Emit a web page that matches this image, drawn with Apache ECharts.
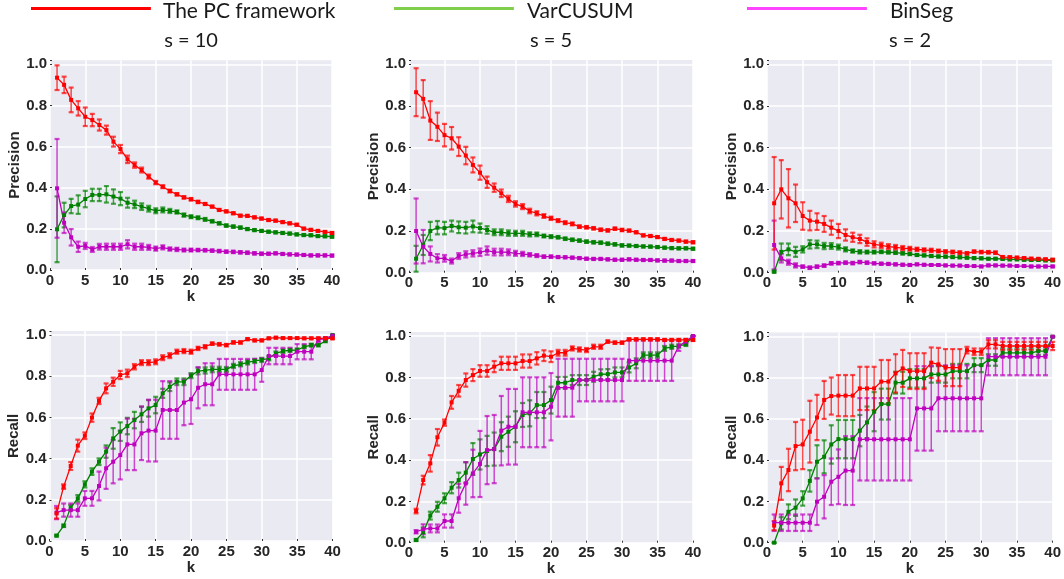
<!DOCTYPE html>
<html>
<head>
<meta charset="utf-8">
<script src="https://cdn.jsdelivr.net/npm/echarts@6/dist/echarts.min.js"></script>
<style>
  html, body { margin: 0; padding: 0; background: #ffffff; }
  #chart { width: 1064px; height: 579px; }
</style>
</head>
<body>
<div id="chart"></div>
<script>
// Number of detected change points k
const kValues = [1,2,3,4,5,6,7,8,9,10,11,12,13,14,15,16,17,18,19,20,
                 21,22,23,24,25,26,27,28,29,30,31,32,33,34,35,36,37,38,39,40];

const methodNames = ['The PC framework', 'VarCUSUM', 'BinSeg'];
const panelTitles = ['s = 10', 's = 5', 's = 2'];
const yTickLabels = ['0.0', '0.2', '0.4', '0.6', '0.8', '1.0'];
const xTickLabels = ['0', '5', '10', '15', '20', '25', '30', '35', '40'];

// ---- Precision, s = 10 ----
const precS10Pc = [0.935,0.90,0.827,0.786,0.745,0.729,0.705,0.68,0.624,0.588,
  0.538,0.51,0.486,0.454,0.425,0.405,0.384,0.368,0.353,0.344,
  0.331,0.321,0.308,0.292,0.285,0.276,0.264,0.263,0.256,0.25,
  0.243,0.24,0.233,0.227,0.22,0.201,0.195,0.19,0.185,0.18];
const precS10PcErr = [0.06,0.04,0.06,0.035,0.045,0.03,0.027,0.022,0.024,0.02,
  0.018,0.013,0.012,0.01,0.008,0.007,0.007,0.006,0.006,0.006,
  0.006,0.005,0.005,0.005,0.005,0.005,0.005,0.005,0.005,0.005,
  0.005,0.005,0.005,0.005,0.005,0.005,0.005,0.005,0.005,0.005];
const precS10Var = [0.198,0.267,0.311,0.318,0.345,0.365,0.365,0.368,0.357,0.347,
  0.327,0.319,0.308,0.298,0.288,0.292,0.287,0.282,0.267,0.259,
  0.254,0.246,0.237,0.227,0.216,0.211,0.206,0.199,0.194,0.19,
  0.186,0.183,0.18,0.177,0.173,0.17,0.169,0.165,0.164,0.162];
const precS10VarErr = [0.16,0.06,0.035,0.045,0.04,0.03,0.03,0.04,0.035,0.032,
  0.024,0.018,0.016,0.014,0.012,0.012,0.01,0.008,0.008,0.007,
  0.007,0.007,0.006,0.006,0.006,0.006,0.006,0.005,0.005,0.005,
  0.005,0.005,0.005,0.005,0.005,0.005,0.005,0.005,0.005,0.005];
const precS10Bin = [0.397,0.23,0.159,0.113,0.117,0.1,0.113,0.113,0.113,0.113,
  0.125,0.113,0.113,0.11,0.104,0.11,0.102,0.1,0.097,0.097,
  0.097,0.096,0.094,0.092,0.089,0.088,0.086,0.084,0.081,0.079,
  0.079,0.081,0.078,0.076,0.075,0.073,0.071,0.071,0.071,0.07];
const precS10BinErr = [0.24,0.05,0.04,0.025,0.015,0.012,0.014,0.015,0.015,0.015,
  0.02,0.015,0.015,0.012,0.01,0.01,0.008,0.008,0.007,0.007,
  0.006,0.006,0.006,0.006,0.006,0.006,0.006,0.006,0.006,0.006,
  0.005,0.005,0.005,0.005,0.005,0.005,0.005,0.005,0.005,0.005];

// ---- Precision, s = 5 ----
const precS5Pc = [0.866,0.834,0.73,0.70,0.66,0.645,0.605,0.562,0.517,0.48,
  0.434,0.408,0.381,0.354,0.33,0.317,0.296,0.285,0.272,0.261,
  0.25,0.24,0.234,0.221,0.218,0.213,0.206,0.203,0.211,0.205,
  0.202,0.194,0.179,0.176,0.171,0.162,0.157,0.154,0.149,0.146];
const precS5PcErr = [0.115,0.09,0.093,0.068,0.054,0.054,0.045,0.042,0.036,0.034,
  0.027,0.02,0.018,0.015,0.013,0.012,0.011,0.01,0.009,0.008,
  0.007,0.007,0.007,0.006,0.006,0.006,0.006,0.006,0.006,0.006,
  0.005,0.005,0.005,0.005,0.005,0.005,0.005,0.005,0.005,0.005];
const precS5Var = [0.067,0.133,0.2,0.216,0.214,0.224,0.218,0.216,0.222,0.214,
  0.205,0.194,0.194,0.19,0.189,0.189,0.184,0.184,0.176,0.173,
  0.17,0.163,0.158,0.154,0.149,0.146,0.144,0.139,0.136,0.131,
  0.13,0.128,0.126,0.125,0.123,0.12,0.118,0.117,0.117,0.115];
const precS5VarErr = [0.062,0.048,0.044,0.032,0.03,0.026,0.028,0.028,0.028,0.022,
  0.018,0.014,0.014,0.013,0.012,0.012,0.01,0.009,0.007,0.007,
  0.006,0.006,0.006,0.006,0.006,0.006,0.006,0.006,0.006,0.006,
  0.005,0.005,0.005,0.005,0.005,0.005,0.005,0.005,0.005,0.005];
const precS5Bin = [0.2,0.125,0.09,0.069,0.069,0.056,0.08,0.088,0.093,0.098,
  0.106,0.099,0.099,0.098,0.093,0.09,0.086,0.082,0.077,0.077,
  0.075,0.074,0.072,0.07,0.067,0.066,0.066,0.064,0.062,0.062,
  0.064,0.062,0.061,0.061,0.059,0.058,0.058,0.056,0.056,0.056];
const precS5BinErr = [0.156,0.08,0.036,0.02,0.016,0.012,0.014,0.015,0.015,0.018,
  0.02,0.016,0.016,0.014,0.012,0.01,0.008,0.007,0.006,0.006,
  0.005,0.005,0.005,0.005,0.005,0.005,0.005,0.005,0.005,0.005,
  0.005,0.005,0.005,0.005,0.005,0.005,0.005,0.005,0.005,0.005];

// ---- Precision, s = 2 ----
const precS2Pc = [0.333,0.4,0.357,0.333,0.272,0.25,0.245,0.234,0.216,0.2,
  0.181,0.17,0.162,0.147,0.136,0.131,0.125,0.122,0.118,0.115,
  0.112,0.109,0.107,0.104,0.101,0.099,0.096,0.093,0.101,0.099,
  0.098,0.096,0.075,0.074,0.072,0.07,0.067,0.066,0.064,0.062];
const precS2PcErr = [0.222,0.14,0.14,0.09,0.066,0.047,0.04,0.038,0.034,0.034,
  0.027,0.022,0.02,0.018,0.015,0.013,0.012,0.011,0.01,0.009,
  0.008,0.008,0.008,0.007,0.007,0.007,0.007,0.006,0.006,0.006,
  0.006,0.006,0.005,0.005,0.005,0.005,0.005,0.005,0.005,0.005];
const precS2Var = [0.005,0.1,0.112,0.1,0.112,0.136,0.136,0.128,0.128,0.123,
  0.112,0.104,0.1,0.099,0.099,0.1,0.098,0.096,0.093,0.09,
  0.085,0.083,0.08,0.078,0.077,0.075,0.074,0.072,0.07,0.069,
  0.067,0.067,0.066,0.064,0.064,0.062,0.061,0.061,0.059,0.059];
const precS2VarErr = [0.005,0.04,0.028,0.024,0.015,0.02,0.018,0.015,0.014,0.012,
  0.01,0.008,0.008,0.007,0.007,0.006,0.006,0.006,0.006,0.006,
  0.005,0.005,0.005,0.005,0.005,0.005,0.005,0.005,0.005,0.005,
  0.004,0.004,0.004,0.004,0.004,0.004,0.004,0.004,0.004,0.004];
const precS2Bin = [0.133,0.069,0.05,0.035,0.029,0.024,0.029,0.034,0.045,0.046,
  0.048,0.046,0.051,0.048,0.045,0.043,0.042,0.04,0.038,0.037,
  0.04,0.038,0.037,0.037,0.035,0.034,0.034,0.032,0.032,0.03,
  0.035,0.035,0.034,0.034,0.032,0.032,0.03,0.03,0.03,0.03];
const precS2BinErr = [0.117,0.02,0.012,0.01,0.006,0.006,0.006,0.006,0.006,0.006,
  0.006,0.006,0.006,0.006,0.005,0.005,0.005,0.005,0.005,0.005,
  0.004,0.004,0.004,0.004,0.004,0.004,0.004,0.004,0.004,0.004,
  0.004,0.004,0.004,0.004,0.004,0.004,0.004,0.004,0.004,0.004];

// ---- Recall, s = 10 ----
const recS10Pc = [0.134,0.264,0.364,0.463,0.511,0.599,0.68,0.741,0.773,0.806,
  0.814,0.846,0.866,0.866,0.87,0.89,0.9,0.919,0.922,0.919,
  0.935,0.943,0.958,0.955,0.951,0.964,0.964,0.98,0.974,0.974,
  0.984,0.987,0.985,0.985,0.985,0.984,0.984,0.984,0.984,0.984];
const recS10PcErr = [0.025,0.011,0.019,0.029,0.016,0.02,0.015,0.024,0.02,0.02,
  0.018,0.013,0.012,0.012,0.012,0.012,0.012,0.01,0.01,0.01,
  0.008,0.008,0.006,0.006,0.006,0.006,0.006,0.005,0.005,0.005,
  0.004,0.004,0.004,0.004,0.004,0.004,0.004,0.004,0.004,0.004];
const recS10Var = [0.026,0.074,0.162,0.207,0.275,0.337,0.385,0.434,0.498,0.531,
  0.558,0.587,0.615,0.644,0.66,0.717,0.749,0.773,0.773,0.803,
  0.825,0.828,0.833,0.833,0.833,0.85,0.858,0.867,0.874,0.879,
  0.887,0.911,0.922,0.926,0.927,0.943,0.951,0.951,0.971,1.0];
const recS10VarErr = [0.004,0.006,0.013,0.016,0.015,0.016,0.016,0.03,0.05,0.045,
  0.04,0.04,0.037,0.04,0.04,0.022,0.021,0.016,0.016,0.012,
  0.016,0.015,0.014,0.013,0.012,0.01,0.01,0.01,0.01,0.01,
  0.01,0.009,0.009,0.008,0.008,0.007,0.007,0.006,0.006,0.0];
const recS10Bin = [0.138,0.15,0.15,0.15,0.207,0.207,0.267,0.353,0.385,0.417,
  0.469,0.469,0.523,0.536,0.536,0.636,0.636,0.636,0.672,0.688,
  0.744,0.761,0.761,0.809,0.809,0.809,0.809,0.809,0.809,0.83,
  0.898,0.898,0.898,0.898,0.919,0.919,0.919,0.976,0.984,0.997];
const recS10BinErr = [0.032,0.032,0.032,0.032,0.036,0.036,0.07,0.1,0.105,0.118,
  0.125,0.125,0.13,0.15,0.15,0.14,0.14,0.14,0.11,0.12,
  0.1,0.102,0.102,0.075,0.075,0.075,0.075,0.075,0.075,0.057,
  0.04,0.04,0.04,0.04,0.037,0.037,0.037,0.01,0.006,0.003];

// ---- Recall, s = 5 ----
const recS5Pc = [0.153,0.303,0.384,0.51,0.581,0.679,0.735,0.787,0.811,0.831,
  0.831,0.852,0.868,0.868,0.868,0.879,0.879,0.892,0.905,0.9,
  0.919,0.919,0.94,0.935,0.932,0.948,0.948,0.973,0.968,0.968,
  0.984,0.984,0.984,0.984,0.984,0.981,0.981,0.981,0.981,0.981];
const recS5PcErr = [0.011,0.021,0.04,0.04,0.015,0.031,0.028,0.032,0.029,0.028,
  0.028,0.027,0.032,0.032,0.032,0.032,0.032,0.03,0.026,0.026,
  0.014,0.014,0.01,0.01,0.01,0.01,0.01,0.006,0.006,0.006,
  0.005,0.005,0.005,0.005,0.005,0.005,0.005,0.005,0.005,0.005];
const recS5Var = [0.013,0.05,0.131,0.174,0.215,0.266,0.303,0.339,0.405,0.427,
  0.444,0.453,0.513,0.537,0.561,0.618,0.626,0.666,0.666,0.69,
  0.774,0.774,0.787,0.787,0.787,0.803,0.815,0.816,0.824,0.824,
  0.848,0.868,0.908,0.908,0.908,0.94,0.948,0.952,0.96,1.0];
const recS5VarErr = [0.005,0.024,0.019,0.024,0.024,0.027,0.036,0.05,0.077,0.073,
  0.073,0.08,0.07,0.073,0.075,0.058,0.063,0.063,0.063,0.065,
  0.028,0.028,0.024,0.024,0.024,0.024,0.024,0.024,0.024,0.024,
  0.024,0.024,0.013,0.013,0.013,0.012,0.01,0.008,0.008,0.0];
const recS5Bin = [0.053,0.065,0.069,0.069,0.105,0.105,0.215,0.287,0.335,0.381,
  0.448,0.453,0.542,0.561,0.561,0.631,0.631,0.631,0.631,0.658,
  0.75,0.75,0.75,0.787,0.787,0.787,0.787,0.787,0.787,0.787,
  0.881,0.881,0.881,0.881,0.881,0.881,0.881,0.952,0.973,1.0];
const recS5BinErr = [0.008,0.024,0.019,0.019,0.032,0.032,0.07,0.103,0.115,0.16,
  0.165,0.165,0.168,0.183,0.183,0.169,0.169,0.169,0.169,0.163,
  0.14,0.14,0.14,0.103,0.103,0.103,0.103,0.103,0.103,0.103,
  0.098,0.098,0.098,0.098,0.098,0.098,0.098,0.024,0.012,0.0];

// ---- Recall, s = 2 ----
const recS2Pc = [0.083,0.288,0.353,0.469,0.477,0.539,0.608,0.693,0.712,0.714,
  0.714,0.714,0.749,0.749,0.749,0.782,0.782,0.822,0.846,0.833,
  0.833,0.833,0.874,0.866,0.85,0.85,0.85,0.935,0.927,0.927,
  0.963,0.963,0.955,0.955,0.955,0.955,0.955,0.955,0.955,0.955];
const recS2PcErr = [0.022,0.08,0.103,0.117,0.12,0.15,0.11,0.092,0.09,0.1,
  0.1,0.1,0.105,0.105,0.105,0.105,0.105,0.093,0.09,0.087,
  0.087,0.087,0.074,0.08,0.09,0.09,0.09,0.016,0.016,0.016,
  0.02,0.02,0.02,0.02,0.02,0.02,0.02,0.02,0.02,0.02];
const recS2Var = [0.0,0.094,0.15,0.17,0.215,0.3,0.393,0.417,0.477,0.503,
  0.503,0.503,0.544,0.584,0.636,0.673,0.673,0.777,0.777,0.798,
  0.798,0.798,0.817,0.817,0.817,0.833,0.833,0.833,0.862,0.862,
  0.887,0.887,0.922,0.922,0.922,0.922,0.922,0.93,0.93,1.0];
const recS2VarErr = [0.0,0.03,0.036,0.04,0.035,0.052,0.08,0.08,0.093,0.093,
  0.093,0.093,0.076,0.077,0.095,0.075,0.075,0.053,0.053,0.045,
  0.045,0.045,0.04,0.04,0.04,0.035,0.035,0.035,0.034,0.034,
  0.028,0.028,0.02,0.02,0.02,0.02,0.02,0.018,0.018,0.0];
const recS2Bin = [0.097,0.097,0.097,0.097,0.097,0.097,0.199,0.223,0.296,0.32,
  0.35,0.35,0.502,0.502,0.502,0.502,0.502,0.502,0.502,0.502,
  0.652,0.652,0.652,0.701,0.701,0.701,0.701,0.701,0.701,0.701,
  0.903,0.903,0.903,0.903,0.903,0.903,0.903,0.903,0.903,1.0];
const recS2BinErr = [0.04,0.04,0.04,0.04,0.04,0.04,0.113,0.105,0.113,0.133,
  0.167,0.167,0.2,0.2,0.2,0.2,0.2,0.2,0.2,0.2,
  0.205,0.205,0.205,0.16,0.16,0.16,0.16,0.16,0.16,0.16,
  0.09,0.09,0.09,0.09,0.09,0.09,0.09,0.09,0.09,0.0];

// Panel definitions: metric on y, and [PC, VarCUSUM, BinSeg] curves with error half-widths
const panels = [
  { metric: 'Precision', values: [precS10Pc, precS10Var, precS10Bin], errors: [precS10PcErr, precS10VarErr, precS10BinErr] },
  { metric: 'Precision', values: [precS5Pc, precS5Var, precS5Bin],    errors: [precS5PcErr, precS5VarErr, precS5BinErr] },
  { metric: 'Precision', values: [precS2Pc, precS2Var, precS2Bin],    errors: [precS2PcErr, precS2VarErr, precS2BinErr] },
  { metric: 'Recall',    values: [recS10Pc, recS10Var, recS10Bin],    errors: [recS10PcErr, recS10VarErr, recS10BinErr] },
  { metric: 'Recall',    values: [recS5Pc, recS5Var, recS5Bin],       errors: [recS5PcErr, recS5VarErr, recS5BinErr] },
  { metric: 'Recall',    values: [recS2Pc, recS2Var, recS2Bin],       errors: [recS2PcErr, recS2VarErr, recS2BinErr] }
];

// Layout and styling
const Y_MAX = 1.02;
const gridBoxes = [
  { left: 50,  top: 60.2,  width: 282, height: 209.8 },
  { left: 409, top: 60.1,  width: 284, height: 212.6 },
  { left: 767, top: 60.1,  width: 286, height: 212.6 },
  { left: 49.5, top: 330.9, width: 283, height: 210.1 },
  { left: 409, top: 331.9, width: 284, height: 210.8 },
  { left: 767, top: 332.6, width: 286, height: 210.1 }
];
const lineColors = ['#ff0000', '#008000', '#bf00bf'];
const legendColors = ['#ff0000', '#7fcf4c', '#ff44ff'];
const legendLefts = [31, 394, 747];
const legendTextGaps = [7, 8, 18];
// Legend swatch: a 3px bar sitting in the upper part of a 9px icon box
const legendSwatch = 'path://M0,0h120v3h-120z M0,9h0.05v0.01h-0.05z';
const titleCenters = [191, 551, 910];
const drawOrder = [1, 2, 0];   // VarCUSUM, BinSeg, then PC on top
const textDark = '#262626';
const tickFont = { fontFamily: 'Liberation Sans', fontWeight: 'bold', fontSize: 15, color: textDark };

function makeErrorBar(color) {
  return function (params, api) {
    const x = api.value(0);
    const lo = api.coord([x, api.value(1)]);
    const hi = api.coord([x, api.value(2)]);
    const half = 2.5;
    const bar = { stroke: color, lineWidth: 1.5, opacity: 0.7 };
    const cap = { stroke: color, lineWidth: 2.2, opacity: 0.7 };
    return {
      type: 'group',
      children: [
        { type: 'line', shape: { x1: lo[0], y1: lo[1], x2: hi[0], y2: hi[1] }, style: bar },
        { type: 'line', shape: { x1: lo[0] - half, y1: lo[1], x2: lo[0] + half, y2: lo[1] }, style: cap },
        { type: 'line', shape: { x1: hi[0] - half, y1: hi[1], x2: hi[0] + half, y2: hi[1] }, style: cap }
      ]
    };
  };
}

const grids = [], xAxes = [], yAxes = [], series = [];

panels.forEach((panel, i) => {
  const box = gridBoxes[i];
  grids.push({
    left: box.left, top: box.top, width: box.width, height: box.height,
    show: true, backgroundColor: '#eaeaf2', borderWidth: 0, containLabel: false
  });

  // main x axis (bottom)
  xAxes.push({
    gridIndex: i, type: 'value', min: 0, max: 40, interval: 5,
    name: 'k', nameLocation: 'middle', nameGap: 17,
    nameTextStyle: tickFont,
    axisLine: { show: false }, axisTick: { show: false },
    axisLabel: Object.assign({ margin: 3, formatter: v => xTickLabels[Math.round(v / 5)] ?? '' }, tickFont),
    splitLine: { show: true, lineStyle: { color: '#ffffff', width: 1.5 } }
  });
  // mirrored x ticks (top edge)
  xAxes.push({
    gridIndex: i, type: 'value', position: 'top', min: 0, max: 40, interval: 5,
    axisLine: { show: false }, axisLabel: { show: false }, splitLine: { show: false },
    axisTick: { show: true, length: 2, lineStyle: { color: '#333333', width: 1 } }
  });

  // main y axis (left)
  yAxes.push({
    gridIndex: i, type: 'value', min: 0, max: Y_MAX, interval: 0.2,
    name: panel.metric, nameLocation: 'middle', nameRotate: 90, nameGap: 26,
    nameTextStyle: tickFont,
    axisLine: { show: false }, axisTick: { show: false },
    axisLabel: Object.assign({
      margin: 3, showMaxLabel: false,
      formatter: v => {
        const idx = Math.round(v / 0.2);
        return Math.abs(v - idx * 0.2) < 1e-6 ? (yTickLabels[idx] ?? '') : '';
      }
    }, tickFont),
    splitLine: { show: true, showMaxLine: false, lineStyle: { color: '#ffffff', width: 1.5 } }
  });
  // mirrored y ticks (right edge)
  yAxes.push({
    gridIndex: i, type: 'value', position: 'right', min: 0, max: Y_MAX, interval: 0.2,
    axisLine: { show: false }, axisLabel: { show: false }, splitLine: { show: false },
    axisTick: { show: true, length: 2, lineStyle: { color: '#333333', width: 1 } }
  });

  drawOrder.forEach(m => {
    const vals = panel.values[m];
    const errs = panel.errors[m];
    const color = lineColors[m];
    series.push({
      type: 'custom', xAxisIndex: 2 * i, yAxisIndex: 2 * i,
      encode: { x: 0, y: [1, 2] },
      data: kValues.map((k, j) => [k, vals[j] - errs[j], vals[j] + errs[j]]),
      renderItem: makeErrorBar(color),
      silent: true, z: 2
    });
    series.push({
      type: 'line', xAxisIndex: 2 * i, yAxisIndex: 2 * i,
      data: kValues.map((k, j) => [k, vals[j]]),
      symbol: 'rect', symbolSize: 4, showSymbol: true,
      lineStyle: { color: color, width: 1.3 },
      itemStyle: { color: color },
      silent: true, z: 3
    });
  });
});

// Legend entries (line swatches shown in the header)
methodNames.forEach((name, m) => {
  series.push({
    type: 'line', name: name, data: [], xAxisIndex: 0, yAxisIndex: 0,
    itemStyle: { color: legendColors[m] }, lineStyle: { color: legendColors[m] }
  });
});

const legends = methodNames.map((name, m) => ({
  data: [name], left: legendLefts[m], top: 1, padding: 0,
  icon: legendSwatch, itemWidth: 120, itemHeight: 9, selectedMode: false,
  textStyle: {
    fontFamily: 'Lato', fontSize: 21, color: '#1a1a1a',
    padding: [0, 0, 0, legendTextGaps[m]]
  }
}));

const titles = panelTitles.map((t, c) => ({
  text: t, left: titleCenters[c], top: 31, textAlign: 'center', padding: 0,
  textStyle: { fontFamily: 'Lato', fontSize: 20, fontWeight: 'normal', color: '#1a1a1a' }
}));

const chart = echarts.init(document.getElementById('chart'), null, { renderer: 'canvas' });
chart.setOption({
  animation: false,
  backgroundColor: '#ffffff',
  title: titles,
  legend: legends,
  grid: grids,
  xAxis: xAxes,
  yAxis: yAxes,
  series: series
});
</script>
</body>
</html>
